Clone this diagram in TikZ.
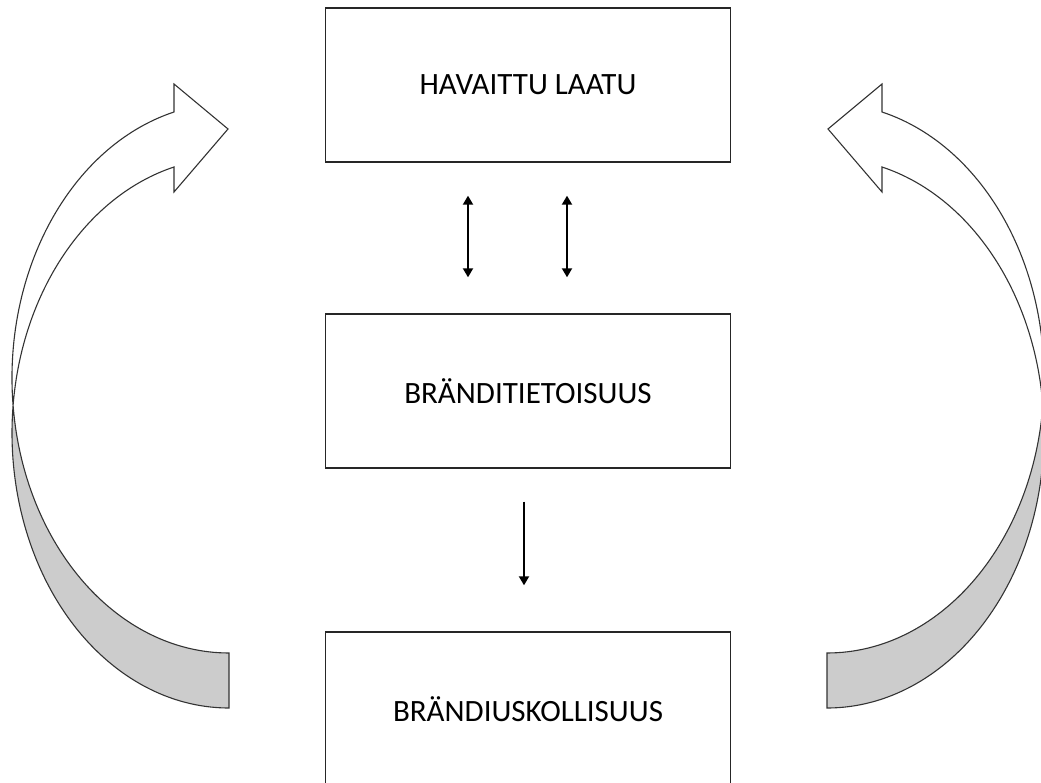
\documentclass[tikz,border=0pt]{standalone}
\usepackage{fontspec}
\setmainfont{Carlito}
\usetikzlibrary{arrows.meta}
\tikzstyle{box}=[
        draw = black!85,
        line width = 1.4pt,
        fill = white,
        minimum width = 405pt,
        minimum height = 154pt,
        font = \fontsize{31}{37}\selectfont
    ]

\begin{document}
\begin{tikzpicture}[x=1pt, y=1pt, node distance={306pt}, >={Triangle[width=10pt,length=9pt]},
        link/.style = {line width = 2pt},
        band/.style = {draw = black!80, line width = 1.1pt},
        front/.style = {band, fill = white},
        back/.style = {band, fill = black!20}]
        \useasboundingbox (0,0) rectangle (1041,782);

        \node[box] (Q) at (528,697) {HAVAITTU LAATU};
        \node[box] (A) [below of = Q] {BRÄNDITIETOISUUS};
        \node[box] (L) [node distance={318pt}, below of = A] {BRÄNDIUSKOLLISUUS};

        \draw[link, <->] ([xshift=-60pt, yshift=-33pt]Q.south) -- ([xshift=-60pt, yshift=36pt]A.north);
        \draw[link, <->] ([xshift=39pt, yshift=-33pt]Q.south) -- ([xshift=39pt, yshift=36pt]A.north);
        \draw[link, ->] ([xshift=-4pt, yshift=-33pt]A.south) -- ([xshift=-4pt, yshift=46pt]L.north);

        % left curved arrow
        \path[back] (229,74) arc[start angle=270, end angle=174.26, x radius=217pt, y radius=275pt]
            arc[start angle=185.74, end angle=270, x radius=217pt, y radius=275pt] -- cycle;
        \path[front] (174,698) -- (228,653) -- (174,590) -- (174,615)
            arc[start angle=104.68, end angle=174.26, x radius=217pt, y radius=275pt]
            arc[start angle=185.74, end angle=104.68, x radius=217pt, y radius=275pt] -- cycle;

        % right curved arrow, mirrored
        \begin{scope}[xshift=1056pt, xscale=-1]
        \path[back] (229,74) arc[start angle=270, end angle=174.26, x radius=217pt, y radius=275pt]
            arc[start angle=185.74, end angle=270, x radius=217pt, y radius=275pt] -- cycle;
        \path[front] (174,698) -- (228,653) -- (174,590) -- (174,615)
            arc[start angle=104.68, end angle=174.26, x radius=217pt, y radius=275pt]
            arc[start angle=185.74, end angle=104.68, x radius=217pt, y radius=275pt] -- cycle;
        \end{scope}
    \end{tikzpicture}
\end{document}
